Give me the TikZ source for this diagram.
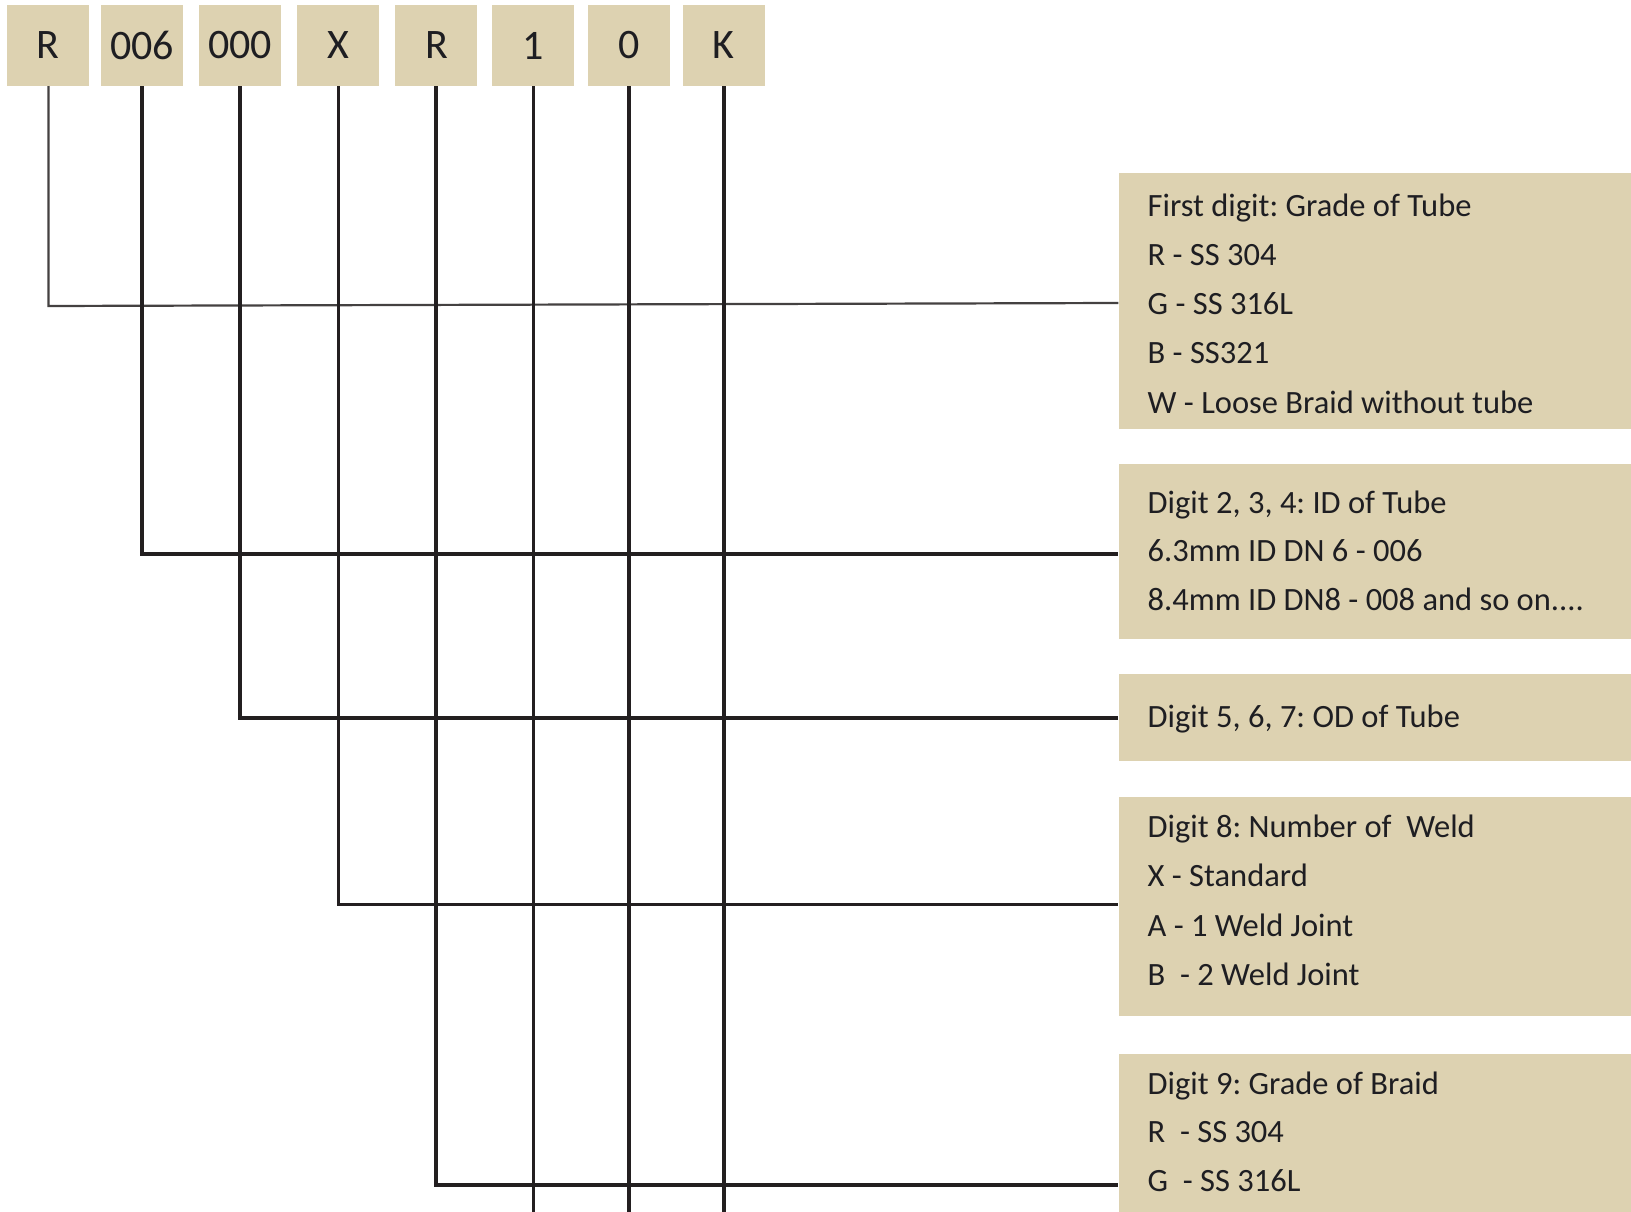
\documentclass[tikz,border=0pt]{standalone}
\usepackage{fontspec}
\setmainfont{Carlito}
\usetikzlibrary{calc}
\definecolor{tanfill}{RGB}{221,210,177}
\definecolor{ink}{RGB}{35,31,32}
\definecolor{txt}{RGB}{30,30,34}
\begin{document}
\frenchspacing
\begin{tikzpicture}[x=1pt,y=-1pt,
  codebox/.style={fill=tanfill, draw=none, minimum width=82pt, minimum height=81pt, inner sep=0pt,
    font=\fontsize{42}{48}\selectfont, text=txt},
  descbox/.style={fill=tanfill, draw=none, inner sep=0pt, anchor=north west, minimum width=513pt},
  desctext/.style={anchor=base west, inner sep=0pt, font=\fontsize{32.5}{49}\selectfont, text=txt},
  conn/.style={draw=ink, line width=4pt, line join=miter},
  thinconn/.style={draw=ink!85, line width=2.2pt}]
\useasboundingbox (0,0) rectangle (1631,1212);
\fill[white] (0,0) rectangle (1631,1212);

% code boxes
\node[codebox] (c1) at (48.4,45.5) {R};
\node[codebox] (c2) at (142.3,45.5) {006};
\node[codebox] (c3) at (240.3,45.5) {000};
\node[codebox] (c4) at (338.3,45.5) {X};
\node[codebox] (c5) at (436.4,45.5) {R};
\node[codebox] (c6) at (533.3,45.5) {1};
\node[codebox] (c7) at (628.8,45.5) {0};
\node[codebox] (c8) at (723.5,45.5) {K};

% description boxes
\node[descbox, minimum height=256.2pt] (d1) at (1118.3,172.5) {};
\node[descbox, minimum height=174.5pt] (d2) at (1118.3,464) {};
\node[descbox, minimum height=87.2pt]  (d3) at (1118.3,673.3) {};
\node[descbox, minimum height=219pt]   (d4) at (1118.3,797) {};
\node[descbox, minimum height=158pt]   (d5) at (1118.3,1054) {};

% description texts
\node[desctext] (t11) at (1147.5,216.5) {First digit: Grade of Tube};
\node[desctext] (t12) at (1147.5,265.4) {R - SS 304};
\node[desctext] (t13) at (1147.5,314.2) {G - SS 316L};
\node[desctext] (t14) at (1147.5,363.1) {B - SS321};
\node[desctext] (t15) at (1147.5,413) {W - Loose Braid without tube};

\node[desctext] (t21) at (1147.5,513) {Digit 2, 3, 4: ID of Tube};
\node[desctext] (t22) at (1147.5,561.8) {6.3mm ID DN 6 - 006};
\node[desctext] (t23) at (1147.5,610.7) {8.4mm ID DN8 - 008 and so on....};

\node[desctext] (t31) at (1147.5,727.2) {Digit 5, 6, 7: OD of Tube};

\node[desctext] (t41) at (1147.5,837.5) {Digit 8: Number of\ \ Weld};
\node[desctext] (t42) at (1147.5,886.3) {X - Standard};
\node[desctext] (t43) at (1147.5,936.3) {A - 1 Weld Joint};
\node[desctext] (t44) at (1147.5,985.2) {B\ \ - 2 Weld Joint};

\node[desctext] (t51) at (1147.5,1094.4) {Digit 9: Grade of Braid};
\node[desctext] (t52) at (1147.5,1142.2) {R\ \ - SS 304};
\node[desctext] (t53) at (1147.5,1191.1) {G\ \ - SS 316L};

% free ends at the bottom edge
\coordinate (e6) at (533.3,1212);
\coordinate (e7) at (628.8,1212);
\coordinate (e8) at (723.5,1212);

% connectors
\draw[thinconn] (c1.south) -- (c1.south |- 0,306) -- ([yshift=-2.2pt]d1.west);
\draw[conn] (c2.south) |- ([yshift=-3pt]d2.west);
\draw[conn] (c3.south) |- ([yshift=-0.7pt]d3.west);
\draw[conn, line width=3.2pt] (c4.south) |- ([yshift=2.5pt]d4.west);
\draw[conn] (c5.south) |- ([yshift=-51.3pt]d5.west);
\draw[conn, line width=3.4pt] (c6.south) -- (e6);
\draw[conn] (c7.south) -- (e7);
\draw[conn] (c8.south) -- (e8);
\end{tikzpicture}
\end{document}
